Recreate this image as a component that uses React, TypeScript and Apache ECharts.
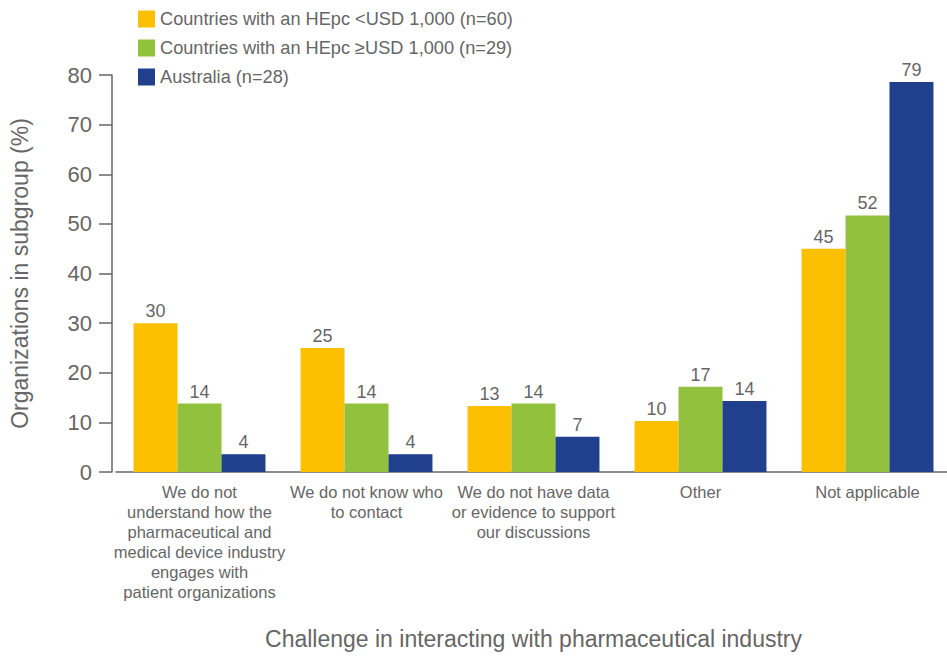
import React, { useEffect, useRef } from "react";
import * as echarts from "echarts";

const categories = [
  "We do not\nunderstand how the\npharmaceutical and\nmedical device industry\nengages with\npatient organizations",
  "We do not know who\nto contact",
  "We do not have data\nor evidence to support\nour discussions",
  "Other",
  "Not applicable",
];
const seriesNames = [
  "Countries with an HEpc <USD 1,000 (n=60)",
  "Countries with an HEpc \u2265USD 1,000 (n=29)",
  "Australia (n=28)",
];
const lowIncome = [30, 25, 13.3, 10.3, 45];
const highIncome = [13.8, 13.8, 13.8, 17.2, 51.7];
const australia = [3.6, 3.6, 7.1, 14.3, 78.6];
const yTicks = { min: 0, max: 80, interval: 10 };
const colors = ["#FDC000", "#92C13E", "#203F8D"];

const FONT = "Liberation Sans";
const TXT = "#666666";

export default function App() {
  const ref = useRef<HTMLDivElement>(null);
  useEffect(() => {
    const chart = echarts.init(ref.current!, null, { renderer: "svg" });
    const mk = (name: string, data: number[], color: string) => ({
      name,
      type: "bar",
      data,
      barGap: "0%",
      barCategoryGap: "21%",
      itemStyle: { color },
      label: {
        show: true,
        position: "top",
        distance: 3,
        color: TXT,
        fontFamily: FONT,
        fontSize: 18,
        formatter: (p: any) => String(Math.round(p.value)),
      },
    });
    chart.setOption({
      animation: false,
      textStyle: { fontFamily: FONT },
      legend: {
        orient: "vertical",
        left: 133,
        top: 5,
        itemWidth: 17,
        itemHeight: 17,
        itemGap: 11,
        icon: "rect",
        textStyle: { color: TXT, fontSize: 18.2, fontFamily: FONT },
        data: seriesNames,
      },
      grid: {
        left: 116,
        top: 75,
        width: 835,
        height: 397,
        containLabel: false,
        outerBoundsMode: "none",
      },
      xAxis: {
        type: "category",
        data: categories,
        name: "Challenge in interacting with pharmaceutical industry",
        nameLocation: "middle",
        nameGap: 155,
        nameTextStyle: { color: TXT, fontSize: 23, fontFamily: FONT },
        axisLine: { lineStyle: { color: "#666666", width: 1.5 } },
        axisTick: { show: false },
        axisLabel: {
          interval: 0,
          color: TXT,
          fontSize: 16.5,
          lineHeight: 20,
          fontFamily: FONT,
          margin: 10,
        },
      },
      yAxis: {
        type: "value",
        min: yTicks.min,
        max: yTicks.max,
        interval: yTicks.interval,
        offset: 4,
        name: "Organizations in subgroup (%)",
        nameLocation: "middle",
        nameGap: 81,
        nameTextStyle: { color: TXT, fontSize: 23, fontFamily: FONT },
        axisLine: { show: true, lineStyle: { color: "#666666", width: 1.5 } },
        axisTick: { show: true, inside: false, length: 13, lineStyle: { color: "#666666", width: 1.5 } },
        axisLabel: { color: TXT, fontSize: 22, fontFamily: FONT, margin: 20 },
        splitLine: { show: false },
      },
      series: [
        mk(seriesNames[0], lowIncome, colors[0]),
        mk(seriesNames[1], highIncome, colors[1]),
        mk(seriesNames[2], australia, colors[2]),
      ],
    });
    return () => chart.dispose();
  }, []);
  return (
    <div
      ref={ref}
      style={{ position: "fixed", left: 0, top: 0, width: 947, height: 659, background: "#fff" }}
    />
  );
}
